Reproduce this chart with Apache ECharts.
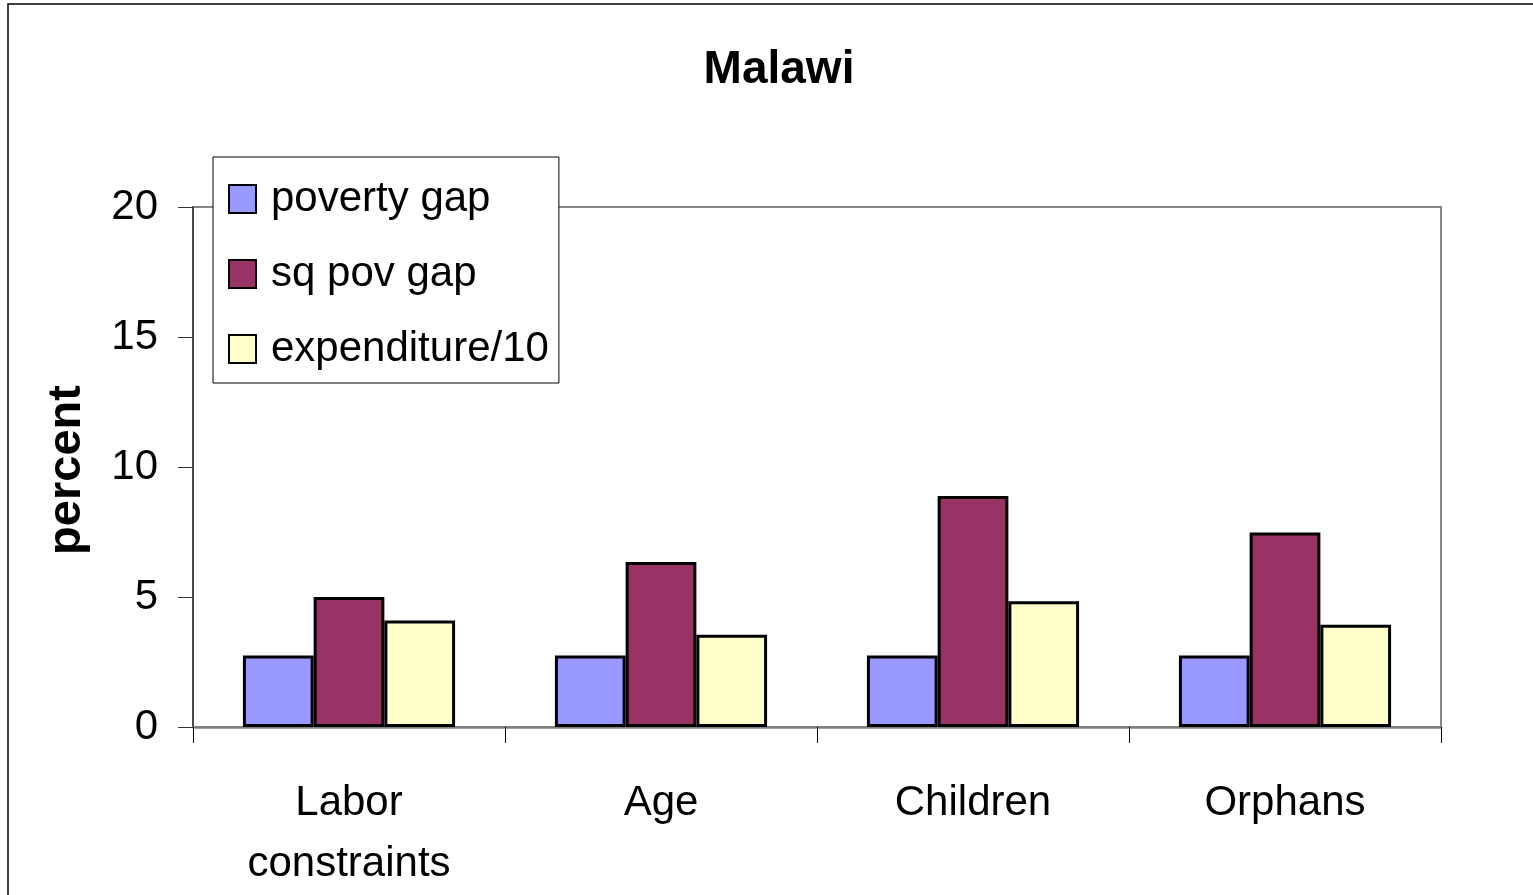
<!DOCTYPE html>
<html>
<head>
<meta charset="utf-8">
<style>
  html, body { margin: 0; padding: 0; background: #fff; }
  #chart { width: 1533px; height: 895px; }
</style>
<script src="https://cdn.jsdelivr.net/npm/echarts@6/dist/echarts.min.js"></script>
</head>
<body>
<div id="chart"></div>
<script>
// Groups on the horizontal axis
const categories = ['Labor\nconstraints', 'Age', 'Children', 'Orphans'];

// Values in percent (expenditure shown divided by 10)
const povertyGap = [2.75, 2.75, 2.75, 2.75];
const sqPovGap = [5.0, 6.35, 8.88, 7.48];
const expenditureTenth = [4.1, 3.55, 4.84, 3.93];

const seriesNames = ['poverty gap', 'sq pov gap', 'expenditure/10'];
const seriesColors = ['#9999FF', '#993366', '#FFFFCC'];

const yTicks = { min: 0, max: 20, interval: 5 };

const FONT = '"Liberation Sans", Arial, sans-serif';

const chart = echarts.init(document.getElementById('chart'));

const values = [povertyGap, sqPovGap, expenditureTenth];

chart.setOption({
  backgroundColor: '#ffffff',
  animation: false,
  title: {
    text: 'Malawi',
    left: 774,
    textAlign: 'center',
    top: 42,
    textStyle: { fontFamily: FONT, fontWeight: 'bold', fontSize: 46, color: '#000' }
  },
  graphic: [
    {
      type: 'rect',
      shape: { x: 8, y: 4, width: 1700, height: 1100 },
      style: { fill: 'none', stroke: '#000', lineWidth: 1.5 },
      silent: true
    },
    {
      type: 'text',
      x: 67,
      y: 470,
      rotation: Math.PI / 2,
      style: {
        text: 'percent',
        fontFamily: FONT,
        fontWeight: 'bold',
        fontSize: 47,
        fill: '#000',
        align: 'center',
        verticalAlign: 'middle'
      }
    }
  ],
  legend: {
    orient: 'vertical',
    left: 213,
    top: 157,
    data: seriesNames,
    icon: 'rect',
    backgroundColor: '#ffffff',
    borderColor: '#000',
    borderWidth: 1,
    padding: [19, 10, 11, 15],
    itemWidth: 27,
    itemHeight: 28,
    itemGap: 29,
    itemStyle: { borderColor: '#000', borderWidth: 2 },
    textStyle: {
      fontFamily: FONT,
      fontSize: 42,
      color: '#000',
      lineHeight: 46,
      padding: [0, 0, 0, 10]
    }
  },
  grid: {
    left: 193,
    right: 92,
    top: 207,
    bottom: 168,
    show: true,
    borderColor: '#868686',
    borderWidth: 2,
    backgroundColor: 'transparent'
  },
  xAxis: {
    type: 'category',
    data: categories,
    axisLine: { lineStyle: { color: '#808080', width: 2.5 } },
    axisTick: { show: true, length: 16, lineStyle: { color: '#000', width: 1 } },
    axisLabel: {
      margin: 46,
      fontFamily: FONT,
      fontSize: 42,
      color: '#000',
      lineHeight: 61,
      interval: 0
    },
    splitLine: { show: false }
  },
  yAxis: {
    type: 'value',
    min: yTicks.min,
    max: yTicks.max,
    interval: yTicks.interval,
    axisLine: { show: true, lineStyle: { color: '#333', width: 1.5 } },
    axisTick: { show: true, length: 15, lineStyle: { color: '#333', width: 1 } },
    axisLabel: { margin: 35, fontFamily: FONT, fontSize: 42, color: '#000' },
    splitLine: { show: false }
  },
  series: seriesNames.map((name, i) => ({
    name: name,
    type: 'bar',
    data: values[i],
    barGap: '0%',
    barCategoryGap: '32%',
    itemStyle: { color: seriesColors[i], borderColor: '#000', borderWidth: 3 }
  }))
});
</script>
</body>
</html>
